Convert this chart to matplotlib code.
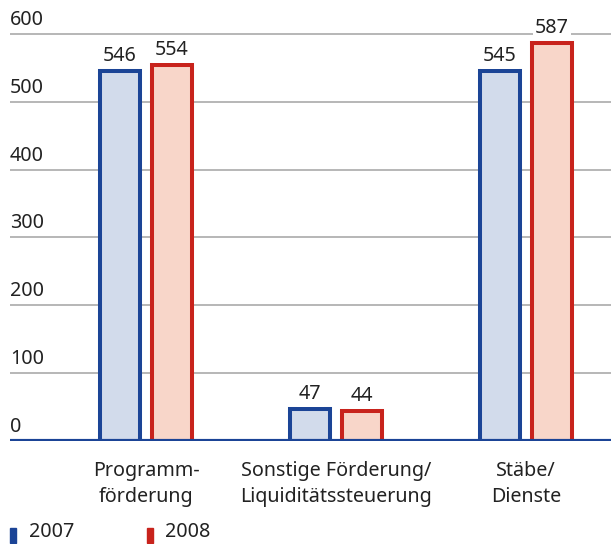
import numpy as np
import matplotlib.pyplot as plt

plt.rcParams['font.family'] = ['Noto Sans', 'DejaVu Sans']

# data
categories = ["Programm-\nförderung", "Sonstige Förderung/\nLiquiditätssteuerung", "Stäbe/\nDienste"]
v2007 = [546, 47, 545]
v2008 = [554, 44, 587]
yticks = [0, 100, 200, 300, 400, 500, 600]

blue_edge = '#1b4496'
blue_fill = '#d2dbeb'
red_edge = '#c8231c'
red_fill = '#f8d6c9'
fs = 14.2

fig = plt.figure(figsize=(6.11, 5.44), dpi=100)
ax = fig.add_axes([10/611, 103/544, 601/611, 441/544])

x = np.arange(len(categories))
off = 0.137
w = 0.21

for t in yticks[1:]:
    ax.axhline(t, color='#a3a3a3', lw=1.1, zorder=1)
for t in yticks:
    ax.text(0, t + 6, str(t), transform=ax.get_yaxis_transform(),
            ha='left', va='bottom', fontsize=fs, color='#222222')

b1 = ax.bar(x - off, v2007, w, color=blue_fill, edgecolor=blue_edge, lw=2.9, zorder=2)
b2 = ax.bar(x + off, v2008, w, color=red_fill, edgecolor=red_edge, lw=2.9, zorder=2)

for xi, v in zip(x - off, v2007):
    ax.text(xi, v + 7, str(v), ha='center', va='bottom', fontsize=fs, color='#222222',
            zorder=4, bbox=dict(facecolor='white', edgecolor='none', pad=1.5))
for xi, v in zip(x + off, v2008):
    ax.text(xi, v + 7, str(v), ha='center', va='bottom', fontsize=fs, color='#222222',
            zorder=4, bbox=dict(facecolor='white', edgecolor='none', pad=1.5))

ax.axhline(0, color=blue_edge, lw=3, zorder=3)

for xi, c in zip(x, categories):
    ax.text(xi, -29, c, ha='center', va='top', fontsize=fs, color='#222222',
            linespacing=1.4)

ax.set_xlim(-0.716, 2.447)
ax.set_ylim(0, 650)
ax.axis('off')

# legend
fig.patches.append(plt.Rectangle((10/611, 1/544), 6/611, 15/544, transform=fig.transFigure,
                                 color=blue_edge))
fig.text(29/611, 2/544, '2007', ha='left', va='bottom', fontsize=fs, color='#222222')
fig.patches.append(plt.Rectangle((147/611, 1/544), 6/611, 15/544, transform=fig.transFigure,
                                 color=red_edge))
fig.text(165/611, 2/544, '2008', ha='left', va='bottom', fontsize=fs, color='#222222')

fig.savefig('out.png', dpi=100)
